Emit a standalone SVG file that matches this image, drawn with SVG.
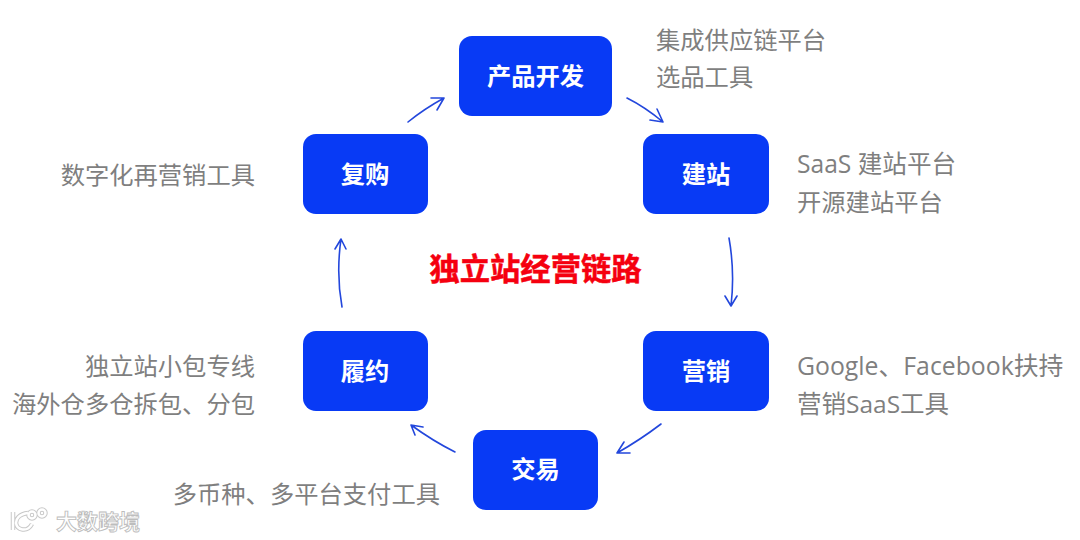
<svg xmlns="http://www.w3.org/2000/svg" width="1080" height="540" viewBox="0 0 1080 540">
<style>
text{font-family:"Open Sans","Noto Sans CJK SC",sans-serif}
.box{fill:#083AF5}
.lbl{fill:#fff;font-size:24.300px;font-weight:700;text-anchor:middle}
.note{fill:#7F7F7F;font-size:24.300px}
.end{text-anchor:end}
.con{fill:none;stroke:#2347DC;stroke-width:1.6;stroke-linecap:round;stroke-linejoin:round}
.wm{fill:#fff;stroke:#BDBDBD;stroke-width:.9;font-size:21px;font-weight:700}
.wl{fill:none;stroke:#C8C8C8;stroke-width:4.500}
.wl2{fill:none;stroke:#fff;stroke-width:2.500}
</style>
<rect width="1080" height="540" fill="#fff"/>
<g id="connectors">
<path class="con" d="M408 122Q424 109 444 98M431 98L444 98L437 110"/>
<path class="con" d="M627 98Q645 107 663 122M650 120L663 122L657 109"/>
<path class="con" d="M729 238Q735 272 731 306M725 296L731 306L737 296"/>
<path class="con" d="M661 424Q640 440 617 453M630 453L617 453L624 442"/>
<path class="con" d="M455 452Q433 441 411 425M415 435L411 425L423 427"/>
<path class="con" d="M342 307Q336 274 341 239M335 249L341 239L346 249"/>
</g>
<g id="node-product"><rect class="box" x="459" y="36" width="153" height="80" rx="13"/><text class="lbl" x="535.500" y="85">产品开发</text></g>
<g id="node-site"><rect class="box" x="643" y="134" width="126" height="80" rx="13"/><text class="lbl" x="706" y="183">建站</text></g>
<g id="node-marketing"><rect class="box" x="643" y="331" width="126" height="80" rx="13"/><text class="lbl" x="706" y="380">营销</text></g>
<g id="node-trade"><rect class="box" x="473" y="430" width="125" height="80" rx="13"/><text class="lbl" x="535.500" y="478">交易</text></g>
<g id="node-fulfil"><rect class="box" x="303" y="331" width="125" height="80" rx="13"/><text class="lbl" x="365" y="380">履约</text></g>
<g id="node-repurchase"><rect class="box" x="303" y="134" width="125" height="80" rx="13"/><text class="lbl" x="365" y="183">复购</text></g>
<text x="535.500" y="280" text-anchor="middle" font-size="30.300" font-weight="700" fill="#F5000F" stroke="#F5000F" stroke-width=".5">独立站经营链路</text>
<text class="note" x="656" y="48.500">集成供应链平台</text>
<text class="note" x="656" y="86">选品工具</text>
<text class="note" x="797" y="172.500" style="font-size:24.600px">SaaS 建站平台</text>
<text class="note" x="797" y="210.500">开源建站平台</text>
<text class="note" x="797" y="375" style="font-size:24.800px">Google、Facebook扶持</text>
<text class="note" x="797" y="413" style="font-size:24.500px">营销SaaS工具</text>
<text class="note end" x="440" y="503">多币种、多平台支付工具</text>
<text class="note end" x="255" y="375">独立站小包专线</text>
<text class="note end" x="255" y="413">海外仓多仓拆包、分包</text>
<text class="note end" x="255" y="184">数字化再营销工具</text>
<g id="watermark">
<path class="wl" d="M13 512V530M28 513C19 514 16 519 16 523C17 530 27 533 32 524"/>
<circle class="wl" cx="32" cy="515" r="3.500"/><circle class="wl" cx="42" cy="513" r="3.500"/>
<path class="wl2" d="M13 512V530M28 513C19 514 16 519 16 523C17 530 27 533 32 524"/>
<circle class="wl2" cx="32" cy="515" r="3.500"/><circle class="wl2" cx="42" cy="513" r="3.500"/>
<text class="wm" x="56" y="529">大数跨境</text>
</g>
</svg>
